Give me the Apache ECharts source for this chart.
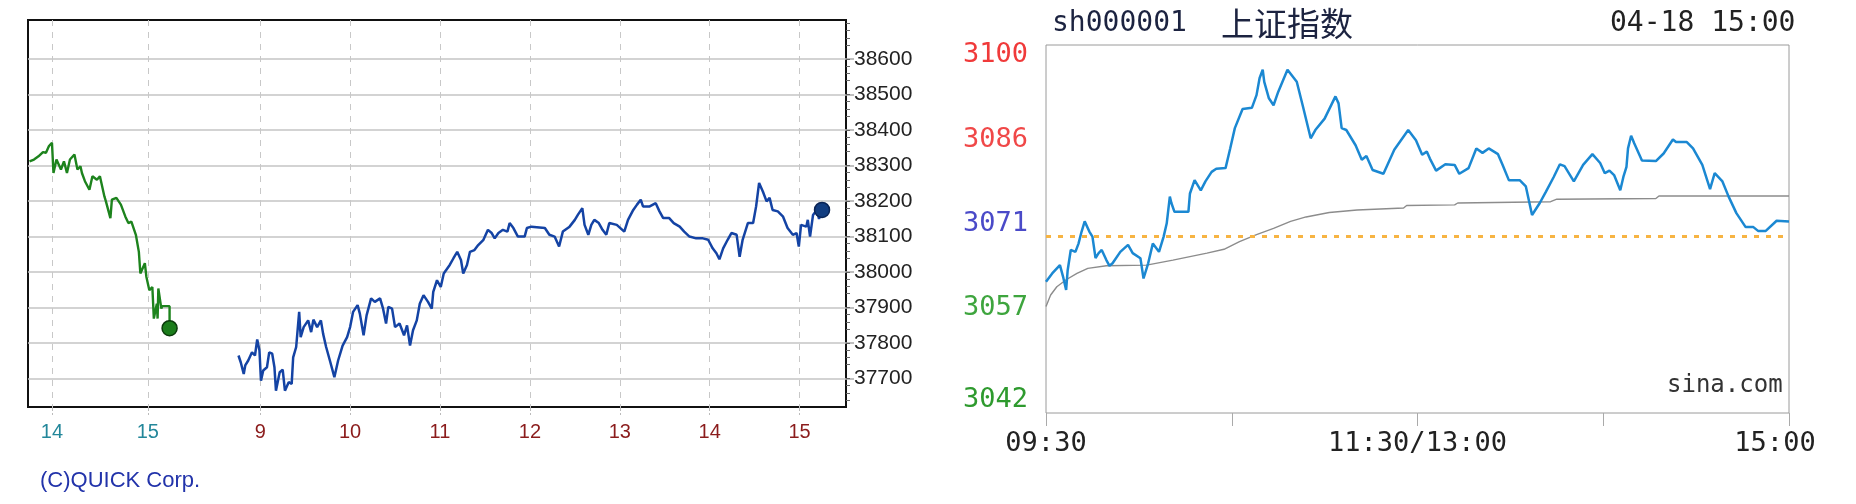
<!DOCTYPE html>
<html><head><meta charset="utf-8">
<script src="https://cdn.jsdelivr.net/npm/echarts@6/dist/echarts.min.js"></script>
<style>html,body{margin:0;padding:0;background:#fff}#c{width:1856px;height:504px}</style>
</head><body><div id="c"></div>
<script>
// ---------- Left chart (QUICK) : x = minutes relative to 9:00 of the current day ----------
const quickXTickValues = [-139, -75, 0, 60, 120, 180, 240, 300, 360];
const quickXTickLabels = ['14', '15', '9', '10', '11', '12', '13', '14', '15'];
const quickYTickValues = [37700, 37800, 37900, 38000, 38100, 38200, 38300, 38400, 38500, 38600];
const quickPrevDay = [
  [-154,38312],[-151,38317],[-148,38326],[-145,38338],[-143,38336],[-141,38355],[-139,38364],[-138,38279],
  [-136,38317],[-133,38289],[-131,38312],[-129,38279],[-127,38317],[-124,38331],[-122,38289],[-120,38298],
  [-119,38279],[-117,38256],[-114,38232],[-112,38270],[-109,38260],[-107,38270],[-104,38213],[-103,38199],
  [-100,38152],[-99,38204],[-96,38209],[-93,38190],[-90,38156],[-88,38138],[-86,38142],[-83,38105],
  [-81,38057],[-80,37996],[-77,38025],[-76,37987],[-74,37949],[-72,37958],[-71,37869],[-69,37911],
  [-68.5,37869],[-68,37954],[-66,37897],[-65.5,37904],[-60.5,37904],[-60.5,37842]
];
const quickToday = [
  [-14.5,37765],[-13,37746],[-11,37713],[-10,37737],[-8,37751],[-5.5,37774],[-3.5,37765],[-2,37810],
  [-0.5,37779],[0.5,37694],[2,37723],[4.5,37732],[6,37774],[8,37770],[9.5,37732],[10.5,37666],[13,37718],
  [15,37725],[16.5,37666],[19,37690],[21,37685],[22,37760],[24,37789],[26,37888],[27,37817],[29,37845],
  [32,37864],[34,37831],[35.5,37866],[38,37845],[40.5,37864],[42,37826],[44,37789],[46.5,37751],
  [49.5,37704],[52,37751],[55,37793],[58,37817],[60,37845],[62,37888],[65,37907],[66.5,37883],[69,37822],
  [71,37878],[74,37926],[76.5,37916],[80,37926],[82,37897],[84,37855],[85.5,37902],[88,37897],[90,37845],
  [93,37855],[96,37822],[98,37850],[100,37793],[102,37836],[104.5,37864],[106.5,37911],[109,37935],
  [112,37916],[114.5,37897],[115.5,37944],[118,37977],[120.5,37958],[122.5,37996],[126.5,38020],
  [129,38039],[131.5,38057],[134,38034],[135.5,37996],[138,38020],[140,38057],[143,38062],[145.5,38076],
  [149,38091],[152,38119],[154.5,38110],[156.5,38095],[159,38110],[162,38119],[165,38114],[166.5,38138],
  [169,38124],[172,38100],[176.5,38100],[178,38124],[181,38128],[190,38124],[193,38105],[196.5,38100],
  [199.5,38072],[202,38114],[206.5,38128],[210,38147],[212,38161],[215,38180],[216.5,38133],[219,38105],
  [221,38133],[223,38147],[226,38138],[228.5,38119],[231,38105],[233,38138],[238,38133],[243,38114],
  [245.5,38147],[249,38175],[251.5,38190],[254,38204],[255.5,38185],[260,38185],[264,38194],[266.5,38171],
  [269,38152],[273,38152],[276,38138],[280,38128],[283,38114],[286.5,38100],[291,38095],[295.5,38095],
  [299,38091],[302,38067],[304.5,38053],[306.5,38036],[309,38067],[312,38091],[314.5,38110],[318,38105],
  [320,38043],[322,38091],[325.5,38138],[329,38138],[331,38185],[333,38251],[335.5,38227],[338,38199],
  [340,38209],[342,38175],[345.5,38171],[349,38156],[352,38124],[355.5,38105],[358,38110],[359.5,38072],
  [361,38133],[364.5,38128],[365.5,38147],[367,38100],[369,38161],[371.5,38175],[373,38150],[375,38175]
];

// ---------- Right chart (Sina) : x = trading minutes since 09:30 ----------
const sinaXLabelValues = [0, 120, 240];
const sinaXLabels = ['09:30', '11:30/13:00', '15:00'];
const sinaYTicks = [3100, 3086, 3071, 3057, 3042];
const sinaPrevClose = [3069.8];
const sinaPrice = [
  [0,3062.7],[2,3064.0],[4.5,3065.3],[5.5,3063.5],[6.5,3061.4],[7,3064.5],[8,3067.7],[9.5,3067.4],
  [10.5,3068.7],[11.5,3070.6],[12.5,3072.2],[14,3070.6],[15,3069.8],[16,3066.4],[17,3067.2],[18,3067.7],
  [19.5,3066.1],[20.5,3065.2],[21.5,3065.6],[24,3067.4],[26.5,3068.5],[28,3067.2],[30.5,3066.4],
  [31.5,3063.2],[33,3065.6],[34.5,3068.7],[36.5,3067.4],[38,3069.8],[39,3071.9],[40,3076.1],[40.5,3075.1],
  [41.5,3073.7],[46,3073.7],[46.5,3076.6],[48,3078.7],[50,3077.1],[51.5,3078.5],[53.5,3080.0],[55,3080.5],
  [58,3080.6],[59.5,3083.7],[61,3086.9],[63.5,3089.9],[66.5,3090.1],[68,3092.1],[69,3094.8],[70,3096.1],
  [70.5,3094.2],[72,3091.6],[73.5,3090.5],[75,3092.6],[78,3096.1],[81,3094.2],[83,3090.3],[85.5,3085.3],
  [87,3086.6],[90,3088.4],[93.5,3091.9],[94.5,3090.8],[95.5,3086.9],[97,3086.6],[100,3084.2],[102,3081.9],
  [103.5,3082.5],[105.5,3080.3],[109,3079.7],[112.5,3083.5],[117,3086.6],[119.5,3085.0],[121.5,3082.7],
  [123,3083.2],[124,3082.1],[126,3080.2],[129,3081.2],[132,3081.1],[133.5,3079.7],[136.5,3080.6],
  [139,3083.7],[141,3083.0],[143,3083.7],[146,3082.8],[147.5,3081.1],[149.5,3078.7],[153,3078.7],
  [155,3077.7],[157,3073.2],[159.5,3075.1],[161.5,3076.9],[164,3079.2],[166,3081.2],[167.5,3080.9],
  [170.5,3078.5],[173.5,3081.1],[176.5,3082.8],[179,3081.4],[180.5,3079.8],[182,3080.2],[183.5,3079.5],
  [185.5,3077.1],[186.5,3079.2],[187.5,3080.8],[188,3083.7],[189,3085.7],[190,3084.5],[192.5,3081.8],
  [197,3081.7],[199.5,3082.9],[202.5,3085.1],[203.5,3084.7],[207,3084.7],[209,3083.7],[212,3081.1],
  [214.5,3077.3],[216,3079.8],[218.5,3078.5],[220.5,3076.1],[223,3073.5],[226,3071.3],[228.5,3071.3],
  [230,3070.7],[232.5,3070.7],[236,3072.3],[240,3072.2]
];
const sinaAvg = [
  [0,3058.8],[1.5,3060.6],[3.5,3061.9],[6.5,3063.0],[10,3064.0],[13.5,3064.8],[19.5,3065.2],[32.5,3065.3],
  [41,3066.1],[52,3067.2],[57.5,3067.8],[62.5,3069.0],[68,3070.1],[73.5,3071.1],[79,3072.2],[84,3072.9],
  [91.5,3073.6],[100.5,3074.0],[115.5,3074.3],[116.5,3074.7],[132,3074.8],[133,3075.1],[163,3075.3],
  [165,3075.7],[197,3075.8],[198,3076.2],[240,3076.2]
];

const narrow = "'Liberation Sans Narrow','Liberation Sans',sans-serif";
const mono = "'DejaVu Sans Mono','Liberation Mono',monospace";
const sinaRich = {
  r0: {color: '#f03a3a', fontFamily: mono, fontSize: 27, padding: [20, 0, 0, 0]},
  r1: {color: '#f04848', fontFamily: mono, fontSize: 27, padding: [12, 0, 0, 0]},
  r2: {color: '#4a4ac8', fontFamily: mono, fontSize: 27, padding: [0, 0, 10, 0]},
  r3: {color: '#3ea53e', fontFamily: mono, fontSize: 27, padding: [0, 0, 20, 0]},
  r4: {color: '#2e9a2e', fontFamily: mono, fontSize: 27, padding: [0, 0, 26, 0]}
};

const chart = echarts.init(document.getElementById('c'), null, {renderer: 'canvas'});
chart.setOption({
  animation: false,
  backgroundColor: '#fff',
  title: [
    {text: '(C)QUICK Corp.', left: 35, top: 465, textStyle: {color: '#2233aa', fontFamily: "'Liberation Sans',sans-serif", fontSize: 22, fontWeight: 'normal'}},
    {text: 'sh000001', left: 1047, top: 5, textStyle: {color: '#1c2340', fontFamily: mono, fontSize: 28, fontWeight: 'normal'}},
    {text: '上证指数', left: 1216, top: 2, textStyle: {color: '#1c2340', fontFamily: "'Noto Sans CJK SC',sans-serif", fontSize: 33, fontWeight: 'normal'}},
    {text: '04-18 15:00', left: 1605, top: 5, textStyle: {color: '#222', fontFamily: mono, fontSize: 28, fontWeight: 'normal'}},
    {text: 'sina.com', left: 1662, top: 369, textStyle: {color: '#333', fontFamily: mono, fontSize: 24, fontWeight: 'normal'}}
  ],
  grid: [
    {left: 28, right: 1010, top: 20, bottom: 97, show: true, borderColor: '#111', borderWidth: 2, backgroundColor: 'transparent'},
    {left: 1046, right: 67, top: 45, bottom: 91, show: true, borderColor: '#9a9a9a', borderWidth: 1, backgroundColor: 'transparent'}
  ],
  xAxis: [
    {
      gridIndex: 0, type: 'value', min: -155, max: 391,
      axisLine: {show: false, onZero: false},
      axisTick: {show: true, customValues: quickXTickValues, length: 8, lineStyle: {color: '#bbb', type: 'dashed'}},
      axisLabel: {
        customValues: quickXTickValues, margin: 15,
        fontFamily: narrow, fontSize: 20,
        formatter: (v) => quickXTickLabels[quickXTickValues.indexOf(v)],
        color: (v) => (Number(v) < 0 ? '#23879a' : '#8b1c1c')
      },
      splitLine: {show: true, lineStyle: {color: '#c8c8c8', type: [6, 6], width: 1}}
    },
    {
      gridIndex: 1, type: 'value', min: 0, max: 240, interval: 60,
      axisLine: {show: false, onZero: false},
      axisTick: {show: true, length: 13, lineStyle: {color: '#aaa'}},
      axisLabel: {
        customValues: sinaXLabelValues, margin: 17,
        fontFamily: mono, fontSize: 27, color: '#222',
        formatter: (v) => {
          const i = sinaXLabelValues.indexOf(v);
          return i === sinaXLabelValues.length - 1 ? '{last|' + sinaXLabels[i] + '}' : sinaXLabels[i];
        },
        rich: {last: {fontFamily: mono, fontSize: 27, color: '#222', padding: [0, 28, 0, 0]}}
      },
      splitLine: {show: false}
    }
  ],
  yAxis: [
    {
      gridIndex: 0, type: 'value', position: 'right', min: 37620, max: 38710, interval: 100,
      axisLine: {show: false, onZero: false},
      axisTick: {show: true, customValues: quickYTickValues, length: 8, lineStyle: {color: '#aaa', width: 1.5}},
      minorTick: {show: true, splitNumber: 5, length: 4, lineStyle: {color: '#666'}},
      axisLabel: {customValues: quickYTickValues, margin: 8, fontFamily: narrow, fontSize: 21, color: '#222', formatter: (v) => String(v)},
      splitLine: {show: true, lineStyle: {color: '#c4c4c4', width: 1.5}}
    },
    {
      gridIndex: 1, type: 'value', min: 3042, max: 3100,
      axisLine: {show: false, onZero: false},
      axisTick: {show: false},
      axisLabel: {
        customValues: sinaYTicks, margin: 18,
        formatter: (v) => '{r' + sinaYTicks.indexOf(v) + '|' + v + '}',
        rich: sinaRich
      },
      splitLine: {show: false}
    }
  ],
  series: [
    {
      name: 'prev', type: 'line', xAxisIndex: 0, yAxisIndex: 0, data: quickPrevDay,
      showSymbol: true, symbol: 'circle', symbolSize: (v, p) => (p.dataIndex === quickPrevDay.length - 1 ? 15 : 0),
      itemStyle: {color: '#1c7d1c', borderColor: '#0b3b0b', borderWidth: 1.5},
      lineStyle: {color: '#1d831d', width: 2.4}, z: 3
    },
    {
      name: 'today', type: 'line', xAxisIndex: 0, yAxisIndex: 0, data: quickToday,
      showSymbol: true, symbol: 'circle', symbolSize: (v, p) => (p.dataIndex === quickToday.length - 1 ? 15 : 0),
      itemStyle: {color: '#123d80', borderColor: '#0a2456', borderWidth: 1.5},
      lineStyle: {color: '#1443a4', width: 2.5}, z: 3
    },
    {
      name: 'avg', type: 'line', xAxisIndex: 1, yAxisIndex: 1, data: sinaAvg,
      showSymbol: false, lineStyle: {color: '#8c8c8c', width: 1.4}, z: 2,
      markLine: {
        silent: true, symbol: 'none', label: {show: false},
        lineStyle: {color: '#f7b443', type: [5, 7], width: 3},
        data: sinaPrevClose.map(v => ({yAxis: v}))
      }
    },
    {
      name: 'price', type: 'line', xAxisIndex: 1, yAxisIndex: 1, data: sinaPrice,
      showSymbol: false, lineStyle: {color: '#1b88d2', width: 2.5}, z: 4
    }
  ]
});
</script>
</body></html>
